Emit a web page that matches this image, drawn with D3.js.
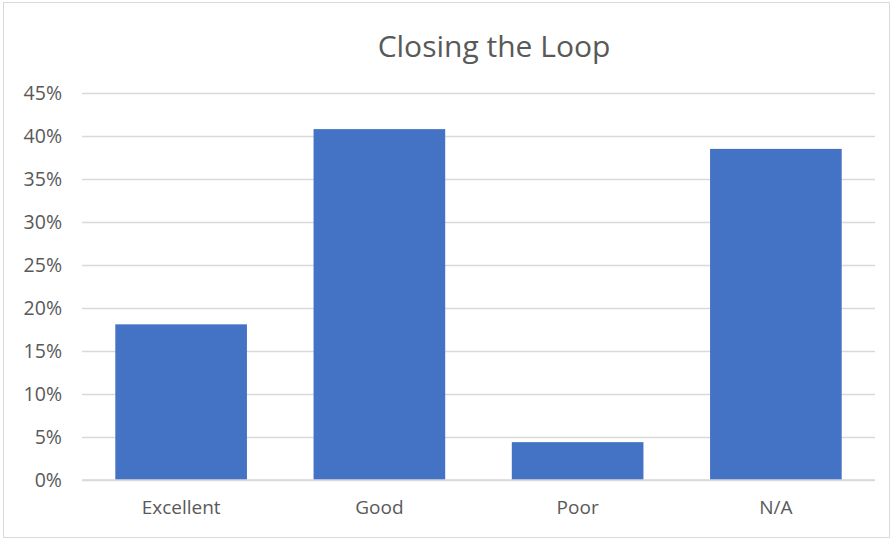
<!DOCTYPE html>
<html>
<head>
<meta charset="utf-8">
<script src="https://cdn.jsdelivr.net/npm/d3@7"></script>
<style>
  html, body { margin: 0; padding: 0; background: #fff; }
  svg { display: block; }
  text { font-family: "Open Sans", "Noto Sans", sans-serif; fill: #595959; }
</style>
</head>
<body>
<svg id="chart" width="894" height="540"></svg>
<script>
// Survey results for "Closing the Loop"
const categories = ["Excellent", "Good", "Poor", "N/A"];
const shares = [0.181, 0.408, 0.044, 0.385];
const yTicks = [0, 0.05, 0.10, 0.15, 0.20, 0.25, 0.30, 0.35, 0.40, 0.45];
const title = "Closing the Loop";

const svg = d3.select("#chart");
const W = 894, H = 540;
const plot = { left: 82, right: 875, top: 93, bottom: 480 };

// chart frame
svg.append("rect")
  .attr("x", 3.5).attr("y", 2.5)
  .attr("width", W - 8).attr("height", H - 5)
  .attr("fill", "#fff").attr("stroke", "#d9d9d9").attr("stroke-width", 1);

const x = d3.scaleBand()
  .domain(categories)
  .range([plot.left, plot.right])
  .paddingInner(0.336)
  .paddingOuter(0.168);

const y = d3.scaleLinear()
  .domain([0, 0.45])
  .range([plot.bottom, plot.top]);

// horizontal gridlines and value axis labels
const yAxis = d3.axisLeft(y)
  .tickValues(yTicks)
  .tickFormat(d3.format(".0%"))
  .tickSize(-(plot.right - plot.left))
  .tickPadding(20);

const gy = svg.append("g")
  .attr("transform", `translate(${plot.left},0)`)
  .call(yAxis);
gy.select(".domain").remove();
gy.selectAll(".tick line").attr("stroke", "#d9d9d9").attr("stroke-width", 1.3);
gy.selectAll(".tick text")
  .attr("font-size", 19.5)
  .attr("fill", "#595959")
  .attr("font-family", "'Open Sans', sans-serif");

// bars
svg.append("g").selectAll("rect")
  .data(categories.map((c, i) => ({ c, v: shares[i] })))
  .join("rect")
  .attr("x", d => x(d.c))
  .attr("width", x.bandwidth())
  .attr("y", d => y(d.v))
  .attr("height", d => y(0) - y(d.v))
  .attr("fill", "#4472c4");

// category axis
const xAxis = d3.axisBottom(x).tickSize(0).tickPadding(21);
const gx = svg.append("g")
  .attr("transform", `translate(0,${plot.bottom})`)
  .call(xAxis);
gx.select(".domain").attr("stroke", "#d9d9d9").attr("stroke-width", 1.3)
  .attr("d", `M${plot.left},0H${plot.right}`);
gx.selectAll(".tick text")
  .attr("font-size", 19)
  .attr("fill", "#595959")
  .attr("font-family", "'Open Sans', sans-serif");

// title
svg.append("text")
  .attr("x", 494)
  .attr("y", 57)
  .attr("text-anchor", "middle")
  .attr("font-size", 30)
  .text(title);
</script>
</body>
</html>
